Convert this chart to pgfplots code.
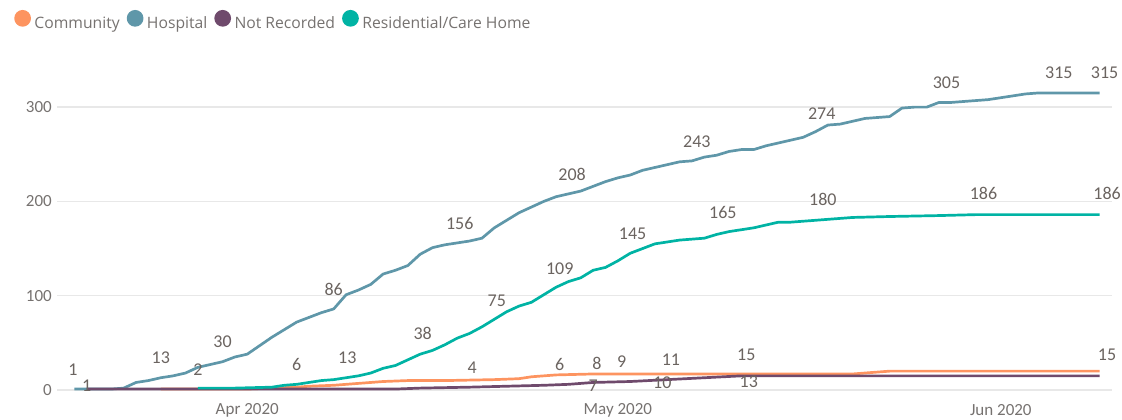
\documentclass[border=0pt]{standalone}
\usepackage{pgfplots}
\usepackage{pgfplotstable}
\pgfplotsset{compat=1.18}
\usepackage{fontspec}
\setmainfont{Carlito}
\newfontfamily\legfont{Open Sans}
\definecolor{cComm}{HTML}{FD9460}
\definecolor{cHosp}{HTML}{5F97A9}
\definecolor{cNR}{HTML}{6F4A6C}
\definecolor{cRes}{HTML}{00B3A4}
\definecolor{lbl}{HTML}{6B6460}
\definecolor{tck}{HTML}{767270}
\definecolor{grd}{HTML}{E8E8E8}

% day 0 = 1 Apr 2020
\pgfplotstableread{
d v
-14 1
-13 1
-12 1
-11 1
-10 2
-9 8
-8 10
-7 13
-6 15
-5 18
-4 24
-3 27
-2 30
-1 35
0 38
1 47
2 56
3 64
4 72
5 77
6 82
7 86
8 101
9 106
10 112
11 123
12 127
13 132
14 144
15 151
16 154
17 156
18 158
19 161
20 172
21 180
22 188
23 194
24 200
25 205
26 208
27 211
28 216
29 221
30 225
31 228
32 233
33 236
34 239
35 242
36 243
37 247
38 249
39 253
40 255
41 255
42 259
43 262
44 265
45 268
46 274
47 281
48 282
49 285
50 288
51 289
52 290
53 299
54 300
55 300
56 305
57 305
58 306
59 307
60 308
61 310
62 312
63 314
64 315
69 315
}\hosp

\pgfplotstableread{
d v
-4 2
-1 2
2 3
3 5
4 6
5 8
6 10
7 11
8 13
9 15
10 18
11 23
12 26
13 32
14 38
15 42
16 48
17 55
18 60
19 67
20 75
21 83
22 89
23 93
24 101
25 109
26 115
27 119
28 127
29 130
30 137
31 145
32 150
33 155
34 157
35 159
36 160
37 161
38 165
39 168
40 170
41 172
42 175
43 178
44 178
45 179
46 180
47 181
48 182
49 183
52 184
56 185
59 186
69 186
}\resid

\pgfplotstableread{
d v
-7 1
0 1
2 2
4 3
5 4
7 5
9 7
11 9
13 10
16 10
20 11
22 12
23 14
25 16
28 17
49 17
50 18
52 20
69 20
}\comm

\pgfplotstableread{
d v
-13 1
12 1
14 2
18 3
21 4
24 5
26 6
28 8
31 9
34 11
37 13
40 15
69 15
}\notrec

\pgfplotstableread{
d v t
-14.1 22 1
-7 34 13
-2 51 30
7 107 86
17.2 177 156
26.3 229 208
36.4 263 243
46.5 293 274
56.6 326 305
65.7 337 315
69.4 337 315
-13.0 5 1
-4 22 2
4 27 6
8.1 34 13
14.2 60 38
20.2 95 75
25.3 129 109
31.2 166 145
38.5 188 165
46.6 202 180
59.6 208 186
69.6 208 186
18.2 24 4
25.3 27 6
28.3 28 8
30.3 30 9
34.3 32 11
40.4 37 15
28 5 7
33.6 8 10
40.6 9 13
69.6 37 15
}\labs

\begin{document}
\begin{tikzpicture}[x=1pt,y=1pt]
\useasboundingbox (0,0) rectangle (1122,420);
\begin{axis}[
  at={(57pt,30pt)}, anchor=south west,
  scale only axis, width=1055pt, height=330pt,
  xmin=-15.4, xmax=70, ymin=0, ymax=350,
  clip=false,
  axis line style={draw=none},
  tick style={draw=none},
  ytick={0,100,200,300},
  ymajorgrids, grid style={grd, line width=1.3pt},
  xtick={0,30,61}, xticklabels={Apr 2020, May 2020, Jun 2020},
  /pgf/number format/assume math mode=true,
  yticklabel style={font=\fontsize{17}{17}\selectfont, text=tck, anchor=east, inner sep=0pt, xshift=-5pt},
  xticklabel style={font=\fontsize{17}{17}\selectfont, text=tck, anchor=center, inner sep=0pt, yshift=-20pt},
  legend columns=-1,
  legend style={draw=none, fill=none, inner sep=0pt, outer sep=0pt,
    at={(-0.0405,1.1212)}, anchor=west,
    font=\legfont\fontsize{15.7}{15.7}\selectfont, text=tck,
    nodes={inner sep=0pt},
    /tikz/every odd column/.append style={column sep=3.5pt},
    /tikz/every even column/.append style={column sep=7pt}},
  legend image code/.code={\fill[#1] (7pt,5pt) circle (7pt);},
]
\addplot[cComm, line width=2.7pt, line join=round] table[x=d,y=v]{\comm};
\addlegendentry{Community}
\addplot[cHosp, line width=2.7pt, line join=round] table[x=d,y=v]{\hosp};
\addlegendentry{Hospital}
\addplot[cNR, line width=2.7pt, line join=round] table[x=d,y=v]{\notrec};
\addlegendentry{Not Recorded}
\addplot[cRes, line width=2.7pt, line join=round] table[x=d,y=v]{\resid};
\addlegendentry{Residential/Care Home}
\addplot[draw=none, forget plot, nodes near coords, point meta=explicit symbolic,
  nodes near coords style={anchor=center, text=lbl, font=\fontsize{18}{18}\selectfont, inner sep=0pt}]
  table[x=d, y=v, meta=t]{\labs};
\end{axis}
\end{tikzpicture}
\end{document}
